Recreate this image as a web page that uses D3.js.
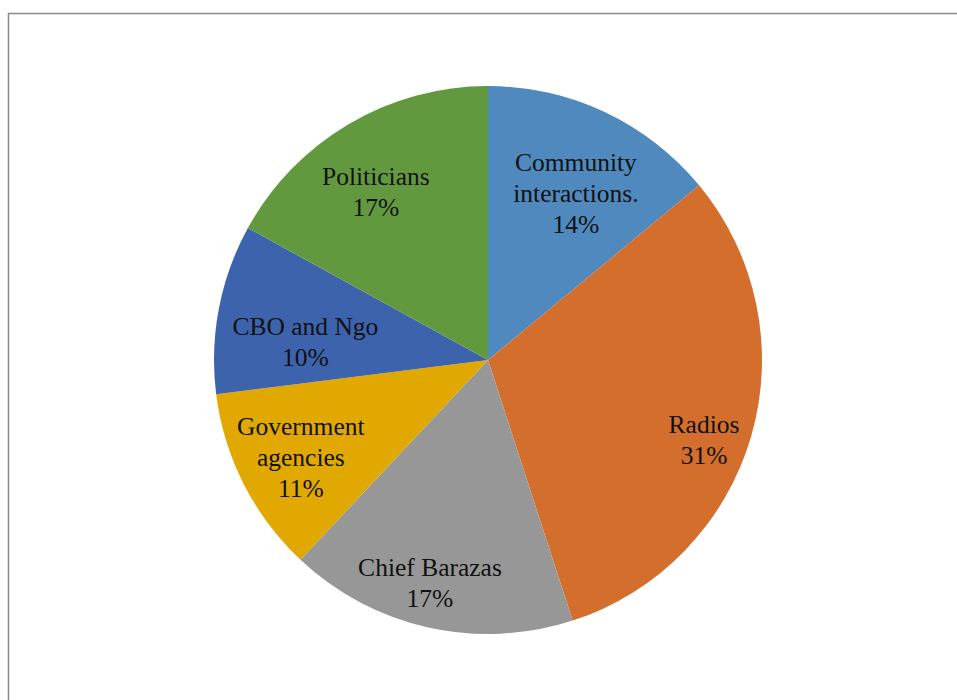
<!DOCTYPE html>
<html>
<head>
<meta charset="utf-8">
<script src="https://cdn.jsdelivr.net/npm/d3@7"></script>
<style>
  html, body { margin: 0; padding: 0; background: #fff; }
  svg { display: block; }
</style>
</head>
<body>
<svg id="chart" width="957" height="700"></svg>
<script>
// Sources of information (share of respondents, %)
const categories = ["Community interactions.", "Radios", "Chief Barazas", "Government agencies", "CBO and Ngo", "Politicians"];
const shares = [14, 31, 17, 11, 10, 17];
// Text of each slice label, split into lines
const labelLines = [
  ["Community", "interactions.", "14%"],
  ["Radios", "31%"],
  ["Chief Barazas", "17%"],
  ["Government", "agencies", "11%"],
  ["CBO and Ngo", "10%"],
  ["Politicians", "17%"]
];

// Styling and layout
const colors = ["#4f89be", "#d36e2c", "#979797", "#e0a800", "#3d63ad", "#63993e"];
const labelRadiusFrac = [0.69, 0.84, 0.84, 0.77, 0.67, 0.74];
const labelAngleShift = [2.5, 4, 2, -0.5, -5, -3]; // degrees
const cx = 488, cy = 360, radius = 274;
const fontSize = 25.5, lineHeight = 31;

const svg = d3.select("#chart");

// Outer chart frame
svg.append("rect")
  .attr("x", 8.5).attr("y", 13.5)
  .attr("width", 1000).attr("height", 1000)
  .attr("fill", "none")
  .attr("stroke", "#8a8a8a")
  .attr("stroke-width", 1.5);

const data = categories.map((c, i) => ({ name: c, value: shares[i], lines: labelLines[i], color: colors[i], idx: i }));

const pie = d3.pie().value(d => d.value).sort(null);
const arcs = pie(data);
const arc = d3.arc().innerRadius(0).outerRadius(radius);

const g = svg.append("g").attr("transform", `translate(${cx},${cy})`);

g.selectAll("path.slice")
  .data(arcs)
  .join("path")
  .attr("class", "slice")
  .attr("d", arc)
  .attr("fill", d => d.data.color);

const labels = g.selectAll("text.label")
  .data(arcs)
  .join("text")
  .attr("class", "label")
  .attr("text-anchor", "middle")
  .attr("font-family", "'Liberation Serif', 'Times New Roman', serif")
  .attr("font-size", fontSize)
  .attr("fill", "#111")
  .attr("transform", d => {
    const i = d.data.idx;
    const a = (d.startAngle + d.endAngle) / 2 + labelAngleShift[i] * Math.PI / 180;
    const r = radius * labelRadiusFrac[i];
    return `translate(${r * Math.sin(a)},${-r * Math.cos(a)})`;
  });

labels.each(function(d) {
  const n = d.data.lines.length;
  const t = d3.select(this);
  d.data.lines.forEach((line, k) => {
    t.append("tspan")
      .attr("x", 0)
      .attr("y", (k - (n - 1) / 2) * lineHeight)
      .attr("dy", "0.35em")
      .text(line);
  });
});
</script>
</body>
</html>
